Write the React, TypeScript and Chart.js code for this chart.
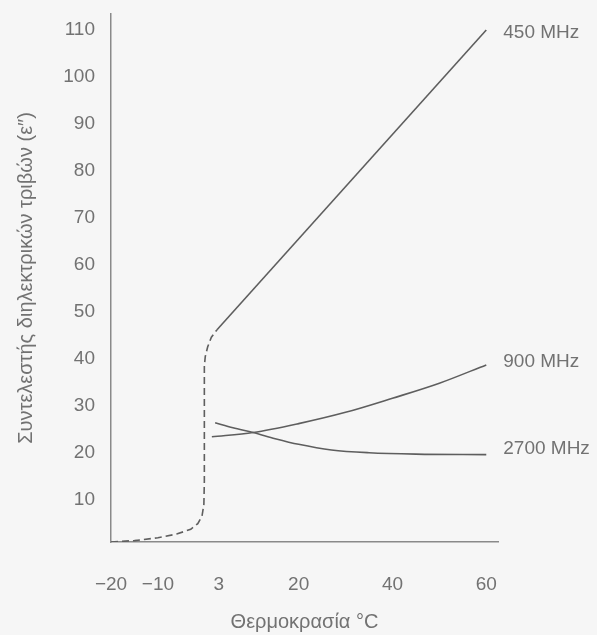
import React, { useEffect, useRef } from "react";
import { Chart, registerables } from "chart.js";

Chart.register(...registerables);

// ---- data ----
const seriesNames = ["450 MHz", "900 MHz", "2700 MHz"];
const xTickValues = [-20, -10, 3, 20, 40, 60];
const yTickValues = [10, 20, 30, 40, 50, 60, 70, 80, 90, 100, 110];

// 450 MHz: frozen region (dashed) and thawed region (solid)
const s450DashedX = [-20, -15, -10, -6, -3, -1.5, -0.6, -0.2, -0.1, -0.1, 0.1, 0.6, 1.4, 2.6];
const s450DashedY = [1.0, 1.3, 1.9, 2.7, 3.7, 4.9, 6.5, 9.0, 14, 38.5, 40.5, 42.5, 44.6, 46.2];
const s450SolidX = [2.6, 60];
const s450SolidY = [46.2, 110];

const s900X = [1.5, 10.3, 20, 30, 40, 50, 60];
const s900Y = [23.4, 24.3, 26.2, 28.6, 31.6, 34.8, 38.7];

const s2700X = [2.2, 6, 10.3, 15, 20, 27, 35, 45, 60];
const s2700Y = [26.4, 25.3, 24.3, 23.0, 21.8, 20.6, 20.0, 19.7, 19.6];

// value at which each series label is centred (at the right end)
const labelYValues = [109.4, 39.4, 20.8];

const xTitle = "Θερμοκρασία °C";
const yTitle = "Συντελεστής διηλεκτρικών τριβών (ε″)";

const zip = (xs: number[], ys: number[]) => xs.map((x, i) => ({ x, y: ys[i] }));

const FONT = "'Liberation Sans', Arial, sans-serif";
const TEXT = "#727272";
const LINE = "#5e5e5e";
const BG = "#f6f6f6";

export default function App() {
  const ref = useRef<HTMLCanvasElement | null>(null);

  useEffect(() => {
    document.body.style.margin = "0";
    document.body.style.background = BG;
    const canvas = ref.current;
    if (!canvas) return;

    const bgPlugin = {
      id: "bg",
      beforeDraw(chart: any) {
        const ctx = chart.ctx;
        ctx.save();
        ctx.fillStyle = BG;
        ctx.fillRect(0, 0, chart.width, chart.height);
        ctx.restore();
      },
    };

    const labelPlugin = {
      id: "endLabels",
      afterDatasetsDraw(chart: any) {
        const ctx = chart.ctx;
        const xs = chart.scales.x;
        const ys = chart.scales.y;
        ctx.save();
        ctx.font = `19px ${FONT}`;
        ctx.fillStyle = TEXT;
        ctx.textAlign = "left";
        ctx.textBaseline = "middle";
        seriesNames.forEach((name, i) => {
          const px = xs.getPixelForValue(60) + 17;
          const py = ys.getPixelForValue(labelYValues[i]);
          ctx.fillText(name, px, py);
        });
        ctx.restore();
      },
    };

    const chart = new Chart(canvas, {
      type: "line",
      data: {
        datasets: [
          {
            label: seriesNames[0] + " (dashed)",
            data: zip(s450DashedX, s450DashedY),
            borderColor: LINE,
            borderWidth: 1.6,
            borderDash: [7, 4],
            pointRadius: 0,
            tension: 0,
          },
          {
            label: seriesNames[0],
            data: zip(s450SolidX, s450SolidY),
            borderColor: LINE,
            borderWidth: 1.6,
            pointRadius: 0,
          },
          {
            label: seriesNames[1],
            data: zip(s900X, s900Y),
            borderColor: LINE,
            borderWidth: 1.6,
            pointRadius: 0,
            cubicInterpolationMode: "monotone",
          },
          {
            label: seriesNames[2],
            data: zip(s2700X, s2700Y),
            borderColor: LINE,
            borderWidth: 1.6,
            pointRadius: 0,
            cubicInterpolationMode: "monotone",
          },
        ],
      },
      options: {
        animation: false,
        responsive: false,
        devicePixelRatio: 1,
        layout: { padding: { top: 14, right: 99, left: 0, bottom: 0 } },
        plugins: {
          legend: { display: false },
          tooltip: { enabled: false },
        },
        scales: {
          x: {
            type: "linear",
            min: -20,
            max: 62.5,
            grid: { display: false, drawTicks: false },
            border: { display: true, color: "#8a8a8a", width: 1.5 },
            afterBuildTicks: (scale: any) => {
              scale.ticks = xTickValues.map((v) => ({ value: v }));
            },
            afterFit: (scale: any) => {
              scale.height = 93;
              scale.paddingLeft = 0;
              scale.paddingRight = 0;
            },
            ticks: {
              padding: 31,
              color: TEXT,
              font: { family: FONT, size: 19 },
              maxRotation: 0,
              autoSkip: false,
              callback: (v: any) => (Number(v) < 0 ? "−" + Math.abs(Number(v)) : String(v)),
            },
            title: {
              display: true,
              text: xTitle,
              color: TEXT,
              font: { family: FONT, size: 20 },
              padding: { top: 0, bottom: 1 },
            },
          },
          y: {
            type: "linear",
            min: 1,
            max: 113.4,
            grid: { display: false, drawTicks: false },
            border: { display: true, color: "#8a8a8a", width: 1.5 },
            afterBuildTicks: (scale: any) => {
              scale.ticks = yTickValues.map((v) => ({ value: v }));
            },
            afterFit: (scale: any) => {
              scale.width = 111;
              scale.paddingTop = 0;
              scale.paddingBottom = 0;
            },
            ticks: {
              padding: 16,
              color: TEXT,
              font: { family: FONT, size: 19 },
              autoSkip: false,
            },
            title: {
              display: true,
              text: yTitle,
              color: TEXT,
              font: { family: FONT, size: 20 },
              padding: { top: 14, bottom: 0 },
            },
          },
        },
      },
      plugins: [bgPlugin, labelPlugin],
    } as any);

    return () => chart.destroy();
  }, []);

  return (
    <div style={{ width: 597, height: 635, background: BG }}>
      <canvas ref={ref} width={597} height={635} style={{ display: "block", width: 597, height: 635 }} />
    </div>
  );
}
